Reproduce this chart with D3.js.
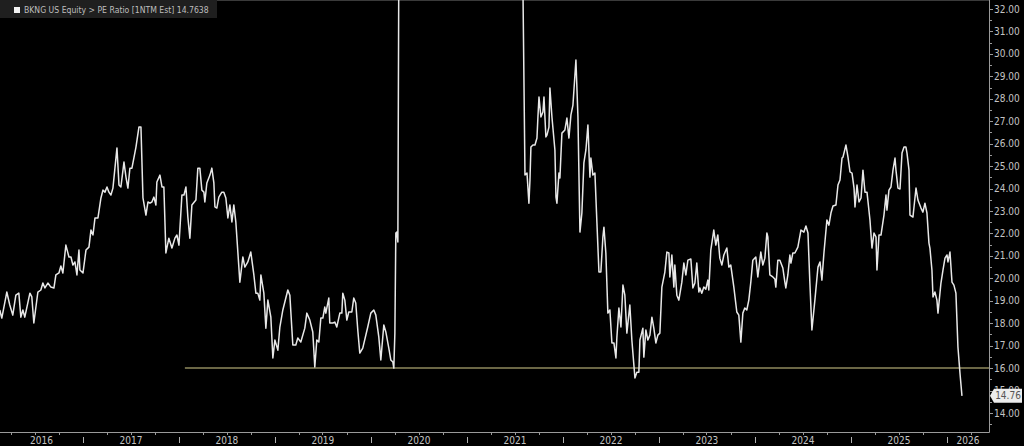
<!DOCTYPE html>
<html>
<head>
<meta charset="utf-8">
<script src="https://cdn.jsdelivr.net/npm/d3@7"></script>
<style>
    html, body { margin: 0; padding: 0; background: #000; }
    svg { display: block; }
    text { font-family: "Liberation Sans Narrow", "Arial Narrow", "DejaVu Sans Condensed", sans-serif; }
</style>
</head>
<body>
<svg id="chart" width="1024" height="446"></svg>
<script>
// BKNG US Equity, PE Ratio [1NTM Est], weekly-ish readings [decimal year, value]
var pe2016 = [[2016.135,18.59],[2016.156,18.23],[2016.208,19.39],[2016.239,18.81],[2016.270,18.36],[2016.302,19.25],[2016.333,19.34],[2016.354,18.27],[2016.375,18.59],[2016.395,18.27],[2016.448,19.34],[2016.468,19.17],[2016.489,18.01],[2016.531,19.39],[2016.562,19.48],[2016.583,19.79],[2016.604,19.57],[2016.635,19.79],[2016.666,19.61],[2016.698,19.57],[2016.718,20.15],[2016.750,20.24],[2016.770,20.55],[2016.791,20.24],[2016.822,21.48],[2016.854,20.95],[2016.875,20.95],[2016.895,20.59],[2016.916,20.73],[2016.937,20.15],[2016.958,21.26],[2016.968,20.37]];
var pe2017 = [[2017.000,20.24],[2017.031,21.26],[2017.062,21.39],[2017.083,22.15],[2017.104,21.93],[2017.125,22.69],[2017.156,22.69],[2017.187,23.58],[2017.208,23.93],[2017.229,23.84],[2017.250,24.07],[2017.270,23.84],[2017.291,23.71],[2017.312,24.02],[2017.354,25.81],[2017.375,24.16],[2017.395,24.07],[2017.427,25.18],[2017.448,24.51],[2017.468,24.02],[2017.489,24.91],[2017.510,24.91],[2017.552,25.85],[2017.583,26.74],[2017.604,26.74],[2017.625,23.58],[2017.656,22.82],[2017.677,23.40],[2017.698,23.35],[2017.718,23.40],[2017.739,23.62],[2017.760,23.27],[2017.770,24.29],[2017.802,24.60],[2017.823,24.07],[2017.843,24.07],[2017.864,21.13],[2017.895,21.79],[2017.927,21.35],[2017.958,21.79],[2017.979,21.93]];
var pe2018 = [[2018.000,21.48],[2018.031,23.71],[2018.052,23.71],[2018.073,24.07],[2018.093,22.73],[2018.114,21.79],[2018.135,23.27],[2018.177,23.49],[2018.197,24.91],[2018.218,24.91],[2018.239,23.93],[2018.260,23.84],[2018.270,23.40],[2018.291,24.25],[2018.323,24.60],[2018.343,24.91],[2018.364,24.25],[2018.375,23.18],[2018.395,23.13],[2018.416,23.62],[2018.447,23.84],[2018.468,23.84],[2018.489,23.58],[2018.510,22.69],[2018.531,23.27],[2018.552,22.51],[2018.572,23.27],[2018.593,22.51],[2018.635,19.83],[2018.666,20.95],[2018.687,20.50],[2018.718,20.73],[2018.749,21.17],[2018.781,20.15],[2018.802,19.34],[2018.822,19.34],[2018.843,19.03],[2018.854,20.15],[2018.885,19.34],[2018.906,17.78],[2018.927,19.03],[2018.958,18.27],[2018.979,16.45]];
var pe2019 = [[2019.000,17.25],[2019.031,16.80],[2019.052,17.83],[2019.083,18.59],[2019.135,19.48],[2019.156,19.25],[2019.187,17.03],[2019.218,17.03],[2019.239,17.34],[2019.270,17.16],[2019.312,17.78],[2019.333,18.45],[2019.364,18.14],[2019.395,17.61],[2019.416,16.05],[2019.437,17.25],[2019.458,17.16],[2019.479,18.23],[2019.500,18.23],[2019.520,18.72],[2019.531,18.45],[2019.562,19.12],[2019.572,18.01],[2019.604,18.01],[2019.625,18.05],[2019.645,17.83],[2019.677,18.45],[2019.698,18.45],[2019.708,19.34],[2019.729,19.03],[2019.750,18.14],[2019.770,18.50],[2019.802,18.50],[2019.822,19.12],[2019.843,18.90],[2019.864,17.70],[2019.885,16.67],[2019.916,16.89],[2019.968,17.83]];
var pe2020 = [[2020.000,18.45],[2020.031,18.59],[2020.052,18.36],[2020.083,17.38],[2020.104,16.36],[2020.135,17.92],[2020.156,17.61],[2020.187,16.89],[2020.208,16.36],[2020.229,16.27],[2020.239,16.00],[2020.250,17.56],[2020.260,22.02],[2020.270,22.06],[2020.281,21.62],[2020.300,45],[2020.400,80],[2020.550,130],[2020.700,160],[2020.850,140]];
var pe2021 = [[2021.000,100],[2021.150,70],[2021.300,50],[2021.450,40],[2021.580,34],[2021.604,24.60],[2021.625,24.69],[2021.645,23.35],[2021.656,24.38],[2021.666,25.85],[2021.687,25.94],[2021.708,25.94],[2021.729,26.25],[2021.739,27.19],[2021.750,28.08],[2021.770,27.19],[2021.791,27.41],[2021.802,28.08],[2021.822,26.30],[2021.833,26.38],[2021.854,26.74],[2021.864,28.48],[2021.885,27.19],[2021.916,25.72],[2021.927,23.62],[2021.937,23.35],[2021.958,24.69],[2021.968,24.47],[2021.989,26.47]];
var pe2022 = [[2022.020,26.61],[2022.041,27.14],[2022.062,26.25],[2022.083,27.28],[2022.104,27.72],[2022.135,29.73],[2022.156,27.19],[2022.177,22.06],[2022.197,22.91],[2022.218,25.14],[2022.239,25.72],[2022.260,26.83],[2022.281,24.51],[2022.291,25.36],[2022.312,24.60],[2022.333,24.69],[2022.354,22.46],[2022.375,20.28],[2022.395,20.28],[2022.416,21.84],[2022.427,22.28],[2022.447,21.13],[2022.468,18.45],[2022.489,18.59],[2022.510,17.12],[2022.531,17.12],[2022.552,16.45],[2022.562,17.38],[2022.583,18.68],[2022.604,17.83],[2022.625,19.70],[2022.645,19.25],[2022.666,17.56],[2022.697,18.81],[2022.718,17.25],[2022.750,15.56],[2022.770,15.82],[2022.791,15.82],[2022.802,17.25],[2022.833,17.78],[2022.843,16.49],[2022.864,17.70],[2022.885,17.25],[2022.906,17.47],[2022.927,18.27],[2022.947,17.78],[2022.968,17.12],[2022.989,17.47]];
var pe2023 = [[2023.010,17.56],[2023.031,19.61],[2023.062,20.28],[2023.083,21.17],[2023.104,21.13],[2023.114,20.06],[2023.135,21.04],[2023.156,19.61],[2023.166,20.59],[2023.187,19.25],[2023.208,19.03],[2023.239,19.83],[2023.260,20.68],[2023.281,20.15],[2023.302,20.81],[2023.333,20.86],[2023.354,19.57],[2023.375,19.79],[2023.395,20.68],[2023.416,19.39],[2023.427,19.57],[2023.447,19.34],[2023.468,19.61],[2023.489,19.52],[2023.510,19.92],[2023.520,19.48],[2023.541,21.26],[2023.572,22.15],[2023.593,21.48],[2023.614,21.93],[2023.635,20.90],[2023.656,20.59],[2023.677,21.04],[2023.708,21.35],[2023.729,20.50],[2023.749,20.59],[2023.781,19.61],[2023.812,18.50],[2023.833,18.36],[2023.854,17.16],[2023.875,18.45],[2023.895,18.68],[2023.916,18.59],[2023.937,19.03],[2023.958,19.83],[2023.979,20.81]];
var pe2024 = [[2024.010,20.95],[2024.031,20.06],[2024.052,20.81],[2024.062,21.17],[2024.083,20.59],[2024.104,20.90],[2024.125,22.02],[2024.135,21.84],[2024.156,20.15],[2024.187,20.06],[2024.208,19.97],[2024.218,19.61],[2024.239,20.81],[2024.260,20.81],[2024.291,20.46],[2024.312,19.83],[2024.322,19.57],[2024.343,20.15],[2024.364,21.04],[2024.375,20.68],[2024.395,21.13],[2024.416,21.13],[2024.447,21.39],[2024.479,22.15],[2024.510,22.06],[2024.531,22.33],[2024.552,22.02],[2024.572,19.79],[2024.593,17.70],[2024.624,19.03],[2024.656,20.50],[2024.677,20.73],[2024.697,19.92],[2024.718,21.13],[2024.749,22.60],[2024.770,22.37],[2024.791,22.91],[2024.812,23.22],[2024.843,23.27],[2024.864,24.16],[2024.885,24.38],[2024.906,25.36],[2024.916,25.40],[2024.947,25.94],[2024.968,25.40],[2024.989,24.74]];
var pe2025 = [[2025.010,24.69],[2025.031,24.02],[2025.041,23.18],[2025.062,24.16],[2025.083,23.40],[2025.104,23.58],[2025.124,24.82],[2025.145,23.84],[2025.166,23.84],[2025.197,22.60],[2025.218,21.35],[2025.239,22.02],[2025.260,21.84],[2025.270,20.37],[2025.291,21.93],[2025.312,21.93],[2025.343,22.82],[2025.364,23.71],[2025.374,23.04],[2025.395,23.93],[2025.416,24.07],[2025.437,24.82],[2025.458,25.36],[2025.468,24.82],[2025.489,24.02],[2025.510,23.98],[2025.531,25.58],[2025.552,25.85],[2025.572,25.85],[2025.583,25.58],[2025.604,24.82],[2025.614,22.82],[2025.645,22.73],[2025.656,23.18],[2025.677,24.02],[2025.697,23.49],[2025.729,23.13],[2025.749,22.95],[2025.770,23.35],[2025.791,22.91],[2025.812,21.57],[2025.822,21.35],[2025.843,20.37],[2025.854,19.17],[2025.874,19.39],[2025.895,19.03],[2025.906,18.45],[2025.937,19.79],[2025.958,20.37],[2025.979,20.90]];
var pe2026 = [[2026.000,21.04],[2026.010,20.73],[2026.031,21.17],[2026.052,19.83],[2026.072,19.70],[2026.093,19.34],[2026.114,16.94],[2026.135,15.78],[2026.156,14.7638]];

var yTickValues = [14, 15, 16, 17, 18, 19, 20, 21, 22, 23, 24, 25, 26, 27, 28, 29, 30, 31, 32];
var yearLabels = [2016, 2017, 2018, 2019, 2020, 2021, 2022, 2023, 2024, 2025, 2026];
var refLevel = 16;            // horizontal support line
var refStart = 2018.062;      // where the support line begins
var titleText = "BKNG US Equity > PE Ratio [1NTM Est]  14.7638";
var lastLabel = "14.76";

var plotRight = 989, plotBottom = 432;
var svg = d3.select("#chart");

function YearToDate(y) {
    var yr = Math.floor(y);
    var start = Date.UTC(yr, 0, 1), end = Date.UTC(yr + 1, 0, 1);
    return new Date(start + (y - yr) * (end - start));
}

var series = [].concat(pe2016, pe2017, pe2018, pe2019, pe2020, pe2021, pe2022, pe2023, pe2024, pe2025, pe2026)
    .map(function(d) { return { date: YearToDate(d[0]), value: d[1] }; });

var x = d3.scaleUtc()
    .domain([new Date(Date.UTC(2017, 0, 1)), new Date(Date.UTC(2026, 0, 1))])
    .range([83, 947]);
var y = d3.scaleLinear().domain([14, 32]).range([413, 9]);

svg.append("rect").attr("width", 1024).attr("height", 446).attr("fill", "#000");

svg.append("defs").append("clipPath").attr("id", "plotClip")
    .append("rect").attr("x", 0).attr("y", 0).attr("width", plotRight).attr("height", plotBottom);

// top hairline
svg.append("line")
    .attr("x1", 0).attr("x2", plotRight).attr("y1", 0.5).attr("y2", 0.5)
    .attr("stroke", "#3a3a3a").attr("stroke-width", 1);

// support line at 16
svg.append("line")
    .attr("clip-path", "url(#plotClip)")
    .attr("x1", x(YearToDate(refStart))).attr("x2", plotRight)
    .attr("y1", y(refLevel)).attr("y2", y(refLevel))
    .attr("stroke", "#8f8a5e").attr("stroke-width", 1.5);

var line = d3.line()
    .x(function(d) { return x(d.date); })
    .y(function(d) { return y(d.value); });

svg.append("path")
    .datum(series)
    .attr("clip-path", "url(#plotClip)")
    .attr("d", line)
    .attr("fill", "none")
    .attr("stroke", "#e8e8e8")
    .attr("stroke-width", 1.5)
    .attr("stroke-linejoin", "round");

// right value axis
var yAxis = svg.append("g").attr("class", "y-axis");
yAxis.append("line")
    .attr("x1", plotRight + 0.5).attr("x2", plotRight + 0.5)
    .attr("y1", 0).attr("y2", plotBottom + 0.5)
    .attr("stroke", "#9a9a9a").attr("stroke-width", 1);

var minorY = d3.range(13.5, 32.5, 0.5);
yAxis.selectAll("line.tick")
    .data(minorY)
    .enter().append("line")
    .attr("class", "tick")
    .attr("x1", plotRight + 0.5)
    .attr("x2", function(d) { return plotRight + (d % 1 === 0 ? 4 : 3); })
    .attr("y1", function(d) { return Math.round(y(d)) + 0.5; })
    .attr("y2", function(d) { return Math.round(y(d)) + 0.5; })
    .attr("stroke", "#9a9a9a");

// 15.00 is drawn too; the last-value tag is painted over most of it, as in the source
yAxis.selectAll("text")
    .data(yTickValues)
    .enter().append("text")
    .attr("x", plotRight + 5)
    .attr("y", function(d) { return y(d); })
    .attr("dominant-baseline", "central")
    .attr("font-size", 10)
    .attr("fill", "#c4c4c4")
    .text(function(d) { return d3.format(".2f")(d); });

// bottom time axis
var xAxis = svg.append("g").attr("class", "x-axis");
xAxis.append("line")
    .attr("x1", 0).attr("x2", plotRight + 0.5)
    .attr("y1", plotBottom + 0.5).attr("y2", plotBottom + 0.5)
    .attr("stroke", "#9a9a9a");

var quarters = d3.utcMonth.every(3).range(new Date(Date.UTC(2016, 0, 1)), new Date(Date.UTC(2026, 6, 1)))
    .filter(function(d) { return x(d) >= 0 && x(d) <= plotRight; });

xAxis.selectAll("line.qtick")
    .data(quarters.filter(function(d) { return d.getUTCMonth() !== 0; }))
    .enter().append("line")
    .attr("class", "qtick")
    .attr("x1", function(d) { return Math.round(x(d)) + 0.5; })
    .attr("x2", function(d) { return Math.round(x(d)) + 0.5; })
    .attr("y1", plotBottom + 1).attr("y2", plotBottom + 3)
    .attr("stroke", "#9a9a9a");

xAxis.selectAll("line.ytick")
    .data(quarters.filter(function(d) { return d.getUTCMonth() === 0; }))
    .enter().append("line")
    .attr("class", "ytick")
    .attr("x1", function(d) { return Math.round(x(d)) + 0.5; })
    .attr("x2", function(d) { return Math.round(x(d)) + 0.5; })
    .attr("y1", plotBottom + 5).attr("y2", plotBottom + 11)
    .attr("stroke", "#b0b0b0");

function YearLabelX(yr) {
    var a = Math.max(x(new Date(Date.UTC(yr, 0, 1))), 0);
    var b = Math.min(x(new Date(Date.UTC(yr + 1, 0, 1))), plotRight);
    return (a + b) / 2;
}

xAxis.selectAll("text")
    .data(yearLabels)
    .enter().append("text")
    .attr("x", YearLabelX)
    .attr("y", plotBottom + 8.5)
    .attr("text-anchor", "middle")
    .attr("dominant-baseline", "central")
    .attr("font-size", 10)
    .attr("fill", "#c4c4c4")
    .text(function(d) { return d; });

// last value tag
var last = series[series.length - 1];
var ly = y(last.value);
var tag = svg.append("g").attr("class", "last-tag");
tag.append("path")
    .attr("d", "M" + (plotRight + 1) + "," + ly +
        "L" + (plotRight + 5) + "," + (ly - 7) +
        "L1022," + (ly - 7) +
        "L1022," + (ly + 7) +
        "L" + (plotRight + 5) + "," + (ly + 7) + "Z")
    .attr("fill", "#ececec");
tag.append("text")
    .attr("x", 1008).attr("y", ly)
    .attr("text-anchor", "middle")
    .attr("dominant-baseline", "central")
    .attr("font-size", 10)
    .attr("fill", "#555")
    .text(lastLabel);

// legend / title box
var legend = svg.append("g").attr("class", "legend");
legend.append("rect")
    .attr("x", 0).attr("y", 0).attr("width", 217).attr("height", 18)
    .attr("fill", "#1f1f1f");
legend.append("rect")
    .attr("x", 14).attr("y", 7).attr("width", 6).attr("height", 6)
    .attr("fill", "#f2f2f2");
legend.append("text")
    .attr("x", 24).attr("y", 10)
    .attr("dominant-baseline", "central")
    .attr("font-size", 8.6)
    .attr("fill", "#bdbdbd")
    .text(titleText);
</script>
</body>
</html>
